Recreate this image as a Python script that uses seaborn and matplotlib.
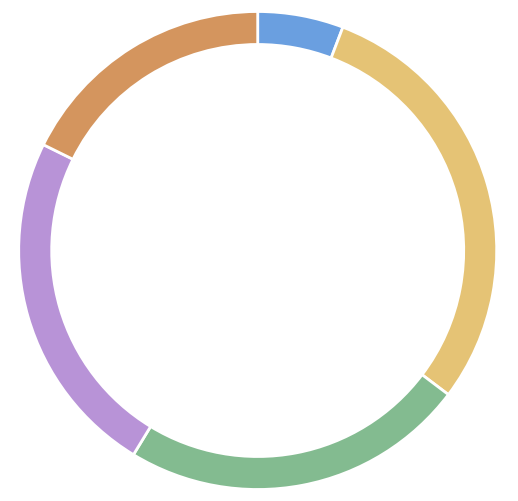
import numpy as np
import seaborn as sns
import matplotlib
matplotlib.use("Agg")
import matplotlib.pyplot as plt

# --- data (clockwise from 12 o'clock) ---
labels = ["A", "B", "C", "D", "E"]
values = [5.8, 29.5, 23.4, 23.6, 17.7]
colors = ["#6a9fe0", "#e5c375", "#83bb90", "#b893d7", "#d4955e"]

sns.set_style("white")
sns.set_palette(colors)

fig = plt.figure(figsize=(5.18, 5.02), dpi=100)
# square axes around the ring
ax = fig.add_axes([18.7 / 518, 11.5 / 502, 478 / 518, 478 / 502])

ax.pie(values, startangle=90, counterclock=False, radius=1.0,
       colors=sns.color_palette(colors),
       wedgeprops=dict(width=0.138, edgecolor="white", linewidth=2))
ax.set_xlim(-1, 1)
ax.set_ylim(-1, 1)
ax.set_aspect("equal")
ax.axis("off")

fig.savefig("out.png", dpi=100)
